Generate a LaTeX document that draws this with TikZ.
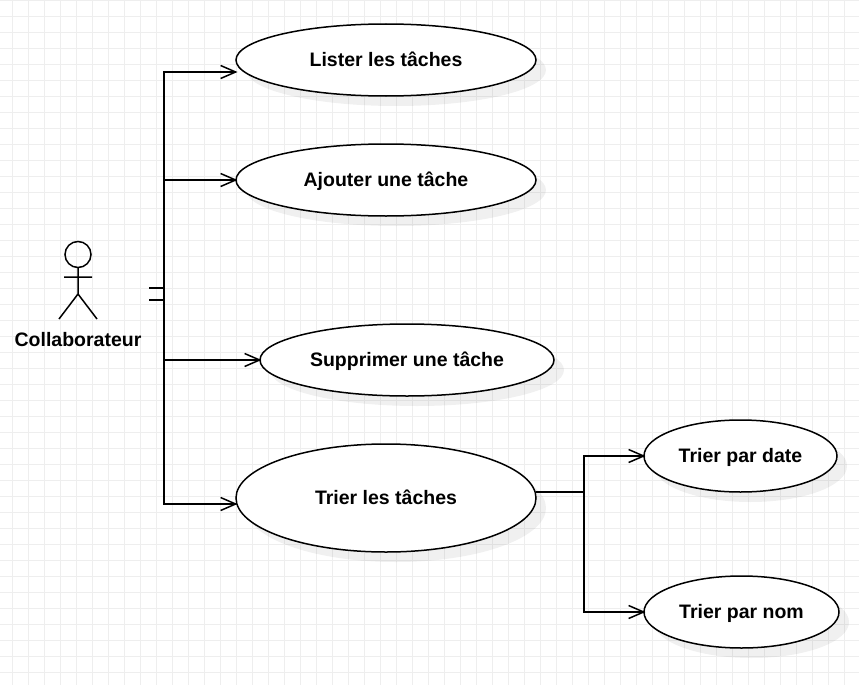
\documentclass[tikz,border=0pt]{standalone}
\usepackage{fontspec}
\setmainfont{Liberation Sans}
\usetikzlibrary{arrows.meta,shapes.geometric,shadows}
\definecolor{gridgray}{HTML}{EEEEEE}
\tikzset{
    usecase/.style={ellipse,draw,fill=white,line width=1.5pt,inner sep=0pt,outer sep=0pt,
        font=\fontsize{19.5}{23}\selectfont\bfseries,text height=14pt,text depth=2pt,
        drop shadow={shadow xshift=10pt,shadow yshift=-10pt,fill=black,opacity=.06}},
    link/.style={line width=1.6pt,shorten >=-1.5pt,-{Straight Barb[length=15pt,width=13pt,line width=1.5pt]}},
    stick/.style={line width=1.5pt}
}

\begin{document}
\begin{tikzpicture}[x=1pt,y=-1pt]
        \useasboundingbox (0,0) rectangle (859,685);
        \fill[white] (0,0) rectangle (859,685);
        \foreach \gx in {0,...,52}
            \draw[gridgray,line width=1pt] (12.5+16*\gx,0) -- (12.5+16*\gx,685);
        \foreach \gy in {0,...,42}
            \draw[gridgray,line width=1pt] (0,0.5+16*\gy) -- (859,0.5+16*\gy);

        \node[usecase,text depth=1pt,minimum width=300pt,minimum height=72pt] (lister) at (386,60) {Lister les tâches};
        \node[usecase,minimum width=300pt,minimum height=72pt] (ajouter) at (386,180) {Ajouter une tâche};
        \node[usecase,minimum width=294pt,minimum height=72pt] (supprimer) at (407,360) {Supprimer une tâche};
        \node[usecase,minimum width=300pt,minimum height=108pt] (trier) at (386,498) {Trier les tâches};
        \node[usecase,minimum width=193pt,minimum height=72pt] (date) at (740.5,456) {Trier par date};
        \node[usecase,minimum width=195pt,minimum height=72pt] (nom) at (741.5,612) {Trier par nom};

        \draw[stick] (78,254.5) circle (13);
        \draw[stick] (78,267.5) -- (78,294) (64,277) -- (92,277) (59,319) -- (78,294) -- (97,319);
        \node[font=\fontsize{19.5}{23}\selectfont\bfseries,text height=14pt,text depth=2pt] (collab) at (78,340) {Collaborateur};

        \coordinate (stubup) at (149,288);
        \coordinate (stubdown) at (149,300);
        \coordinate (fork) at (584,492);

        \draw[link] (stubdown) -- (164,300) |- ([yshift=-12pt]lister.west);
        \draw[link] (stubdown) -- (164,300) |- (ajouter.west);
        \draw[link] (stubup) -- (164,288) |- (supprimer.west);
        \draw[link] (stubup) -- (164,288) |- ([yshift=-6pt]trier.west);
        \draw[link] ([yshift=6pt]trier.east) -- (fork) |- (date.west);
        \draw[link] ([yshift=6pt]trier.east) -- (fork) |- (nom.west);
    \end{tikzpicture}
\end{document}
